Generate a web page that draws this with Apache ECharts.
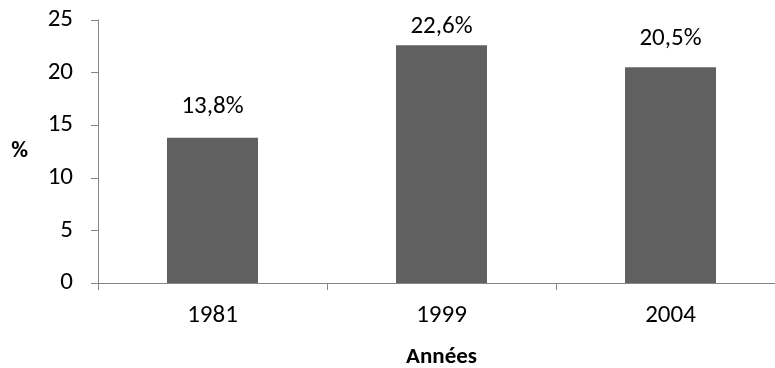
<!DOCTYPE html>
<html>
<head>
<meta charset="utf-8">
<script src="https://cdn.jsdelivr.net/npm/echarts@6/dist/echarts.min.js"></script>
<style>
  html, body { margin: 0; padding: 0; background: #fff; }
  #chart { width: 775px; height: 368px; }
</style>
</head>
<body>
<div id="chart"></div>
<script>
// données
const years = ['1981', '1999', '2004'];
const values = [13.8, 22.6, 20.5];
const yTicks = [0, 5, 10, 15, 20, 25];
// écart étiquette / barre (comme dans l'original)
const labelGaps = [19, 6, 16];

const font = 'Carlito, "Open Sans", "Liberation Sans", sans-serif';

const chart = echarts.init(document.getElementById('chart'));

const option = {
  animation: false,
  grid: {
    left: 98,
    top: 20,
    width: 687,
    height: 263,
    outerBoundsMode: 'none',
  },
  xAxis: {
    type: 'category',
    data: years,
    name: 'Années',
    nameLocation: 'middle',
    nameGap: 63,
    nameTextStyle: { fontFamily: font, fontSize: 23, fontWeight: 'bold', color: '#000' },
    axisLine: { lineStyle: { color: '#868686', width: 1 } },
    axisTick: { show: true, length: 7, alignWithLabel: false, lineStyle: { color: '#868686' } },
    axisLabel: { margin: 20, fontFamily: font, fontSize: 25, color: '#000' },
  },
  yAxis: {
    type: 'value',
    min: yTicks[0],
    max: yTicks[yTicks.length - 1],
    interval: 5,
    name: '%',
    nameLocation: 'middle',
    nameRotate: 0,
    nameGap: 70,
    nameTextStyle: { fontFamily: font, fontSize: 23, fontWeight: 'bold', color: '#000', padding: [24, 0, 0, 0] },
    axisLine: { show: true, lineStyle: { color: '#868686', width: 1 } },
    axisTick: { show: true, length: 7, lineStyle: { color: '#868686' } },
    splitLine: { show: false },
    axisLabel: { margin: 25, fontFamily: font, fontSize: 25, color: '#000' },
  },
  series: [
    {
      type: 'bar',
      data: values.map((v, i) => ({ value: v, label: { distance: labelGaps[i] } })),
      barWidth: 91,
      itemStyle: { color: '#606060' },
      label: {
        show: true,
        position: 'top',
        fontFamily: font,
        fontSize: 25,
        color: '#000',
        formatter: p => String(p.value).replace('.', ',') + '%',
      },
    },
  ],
};

chart.setOption(option);
</script>
</body>
</html>
